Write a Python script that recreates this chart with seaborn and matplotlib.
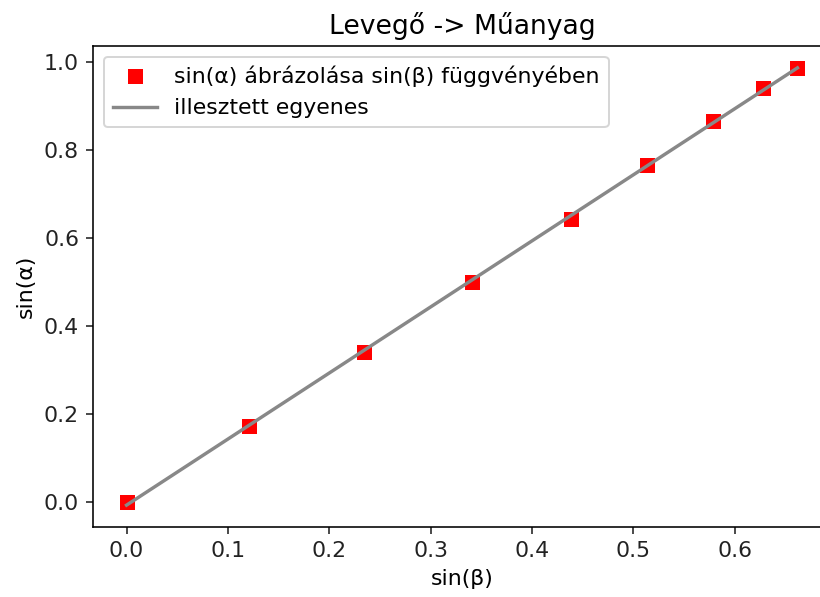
import numpy as np
import pandas as pd
import matplotlib
matplotlib.use('Agg')
import matplotlib.pyplot as plt
import seaborn as sns

# mért értékek
sin_beta = [0.0, 0.121, 0.234, 0.341, 0.439, 0.514, 0.579, 0.628, 0.662]
sin_alpha = [0.0, 0.174, 0.342, 0.5, 0.643, 0.766, 0.866, 0.940, 0.985]

df = pd.DataFrame({'sin_beta': sin_beta, 'sin_alpha': sin_alpha})

# illesztett egyenes
m, b = np.polyfit(df['sin_beta'], df['sin_alpha'], 1)
df['fit'] = m * df['sin_beta'] + b

plt.rcParams['font.family'] = ['DejaVu Sans']
plt.rcParams['font.size'] = 11
fig = plt.figure(figsize=(820 / 144, 597 / 144), dpi=144)
ax = fig.add_axes([93 / 820, 70 / 597, 738 / 820, 481 / 597])

sns.lineplot(data=df, x='sin_beta', y='sin_alpha', ax=ax, marker='s', markersize=7.5,
             color='red', linestyle='', markeredgewidth=0,
             label='sin(α) ábrázolása sin(β) függvényében')
sns.lineplot(data=df, x='sin_beta', y='fit', ax=ax, color='#888888', linewidth=1.7,
             label='illesztett egyenes')

ax.set_title('Levegő -> Műanyag', fontsize=13.3)
ax.set_xlabel('sin(β)', fontsize=11)
ax.set_ylabel('sin(α)', fontsize=11)
ax.set_xticks([0.0, 0.1, 0.2, 0.3, 0.4, 0.5, 0.6])
ax.tick_params(labelsize=11, colors='#222222')
ax.legend(loc='upper left', fontsize=11)

fig.savefig('out.png', dpi=144)
